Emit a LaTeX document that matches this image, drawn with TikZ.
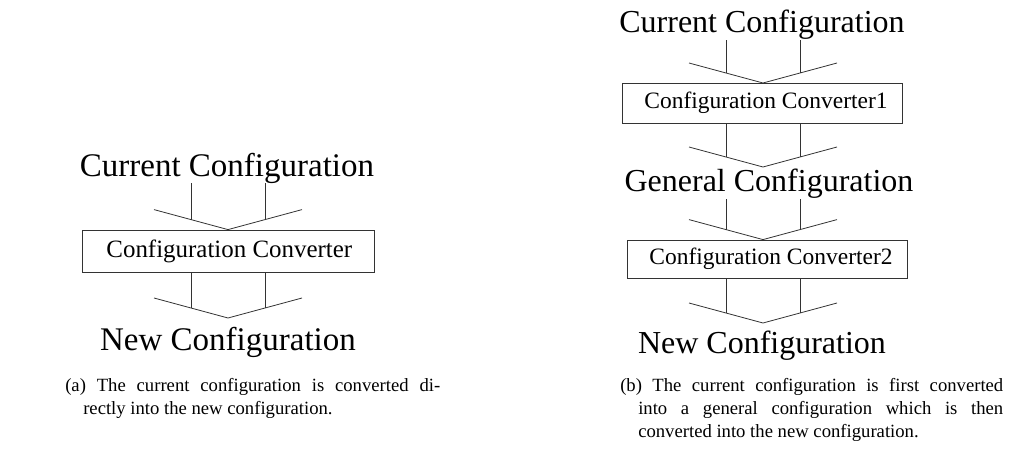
\documentclass[tikz,border=0pt]{standalone}
\usepackage{fontspec}
\setmainfont{Liberation Serif}
\usetikzlibrary{calc}
% funnel between a node and the apex coordinate below it
\newcommand\funnel[2]{%
  \draw[funnelline] ($(#2)+(-74,-20)$) -- (#2) -- ($(#2)+(74,-20)$);
  \coordinate (#2l) at ($(#2)+(-37,-10)$);
  \coordinate (#2r) at ($(#2)+(37,-10)$);
  \draw[funnelline] (#2l) -- (#2l |- #1.south) (#2r) -- (#2r |- #1.south);%
}
\begin{document}
\begin{tikzpicture}[x=0.75pt,y=-0.75pt,
  biglabel/.style={font=\fontsize{#1}{28}\selectfont,inner sep=0pt,anchor=base},
  convbox/.style={draw=black!80,line width=0.6pt,font=\fontsize{#1}{22}\selectfont,inner sep=0pt},
  funnelline/.style={draw=black!80,line width=0.6pt},
  subcap/.style={font=\fontsize{14}{17.25}\selectfont,anchor=north west,inner sep=0pt,text width=#1,align=justify}]
  \useasboundingbox (0,0) rectangle (1010,456);
  % (a) direct conversion
  \node[biglabel=24.75] (lcur) at (227,176) {Current Configuration};
  \node[convbox=18.7,minimum width=219pt,minimum height=31.5pt] (lconv) at (228,251) {\hspace*{2pt}Configuration Converter};
  \node[biglabel=24.75] (lnew) at (228,350) {New Configuration};
  \coordinate (la1) at (lconv.north);
  \coordinate (la2) at (228,318);
  \funnel{lcur}{la1}
  \funnel{lconv}{la2}
  \node[subcap=267.75pt] (lcap) at (83,378) {\hspace*{-13.5pt}(a) The current configuration is converted di-\linebreak rectly into the new configuration.};
  % (b) conversion through a general configuration
  \node[biglabel=24] (rcur) at (762,33) {Current Configuration};
  \node[convbox=17.6,minimum width=210pt,minimum height=30pt] (rconv1) at (762,103) {\hspace*{6pt}Configuration Converter1};
  \node[biglabel=24] (rgen) at (769,192) {General Configuration};
  \node[convbox=17.6,minimum width=210pt,minimum height=28.5pt] (rconv2) at (767,259) {\hspace*{6pt}Configuration Converter2};
  \node[biglabel=24] (rnew) at (762,353) {New Configuration};
  \coordinate (ra1) at (763,83);
  \coordinate (ra2) at (763,167);
  \coordinate (ra3) at (rconv2.north -| ra2);
  \coordinate (ra4) at (763,323);
  \funnel{rcur}{ra1}
  \funnel{rconv1}{ra2}
  \funnel{rgen}{ra3}
  \funnel{rconv2}{ra4}
  \node[subcap=273.75pt] (rcap) at (638,378) {\hspace*{-13.5pt}(b) The current configuration is first converted\linebreak into a general configuration which is then\linebreak converted into the new configuration.};
\end{tikzpicture}
\end{document}
